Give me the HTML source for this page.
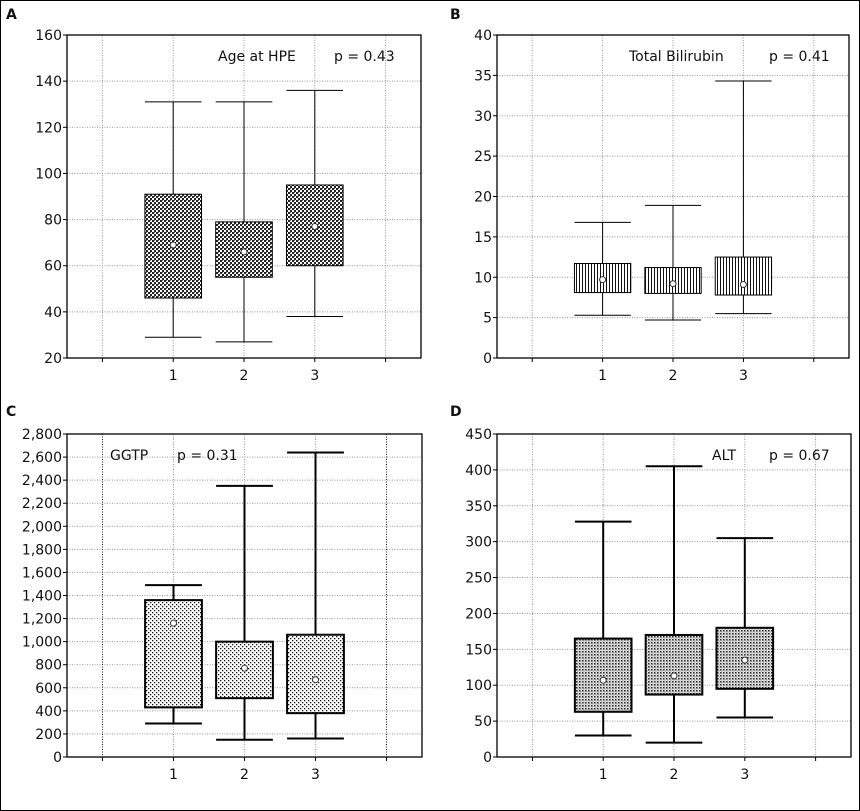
<!DOCTYPE html>
<html><head><meta charset="utf-8"><style>
html,body{margin:0;padding:0;background:#fff}
svg{display:block}
text{font-family:"DejaVu Sans","Liberation Sans",sans-serif;fill:#111}
</style></head><body>
<svg id="fig" width="860" height="811" viewBox="0 0 860 811" xmlns="http://www.w3.org/2000/svg">
<defs>
<pattern id="pA" width="4" height="4" patternUnits="userSpaceOnUse"><rect width="4" height="4" fill="#fff"/><rect width="2" height="2" fill="#222"/><rect x="2" y="2" width="2" height="2" fill="#222"/><rect x="2" y="0" width="1" height="1" fill="#666"/></pattern>
<pattern id="pB" width="3" height="3" patternUnits="userSpaceOnUse"><rect width="3" height="3" fill="#fff"/><rect width="1" height="3" fill="#111"/></pattern>
<pattern id="pC" width="4" height="4" patternUnits="userSpaceOnUse"><rect width="4" height="4" fill="#fff"/><rect width="1.3" height="1.3" fill="#111"/><rect x="2" y="2" width="1.3" height="1.3" fill="#111"/></pattern>
<pattern id="pD" width="3" height="3" patternUnits="userSpaceOnUse"><rect width="3" height="3" fill="#e8e8e8"/><rect width="1.5" height="1.5" fill="#222"/><rect x="1.5" y="1.5" width="1" height="1" fill="#777"/></pattern>
</defs>
<rect x="0.5" y="0.5" width="859" height="810" fill="none" stroke="#000"/>
</svg>
<script>
// Panel A: Age at HPE
const aWhiskLo=[29,27,38], aQ1=[46,55,60], aMean=[69,66,77], aQ3=[91,79,95], aWhiskHi=[131,131,136];
const aTicks=[20,40,60,80,100,120,140,160];
// Panel B: Total Bilirubin
const bWhiskLo=[5.3,4.7,5.5], bQ1=[8.1,8.0,7.8], bMean=[9.7,9.2,9.1], bQ3=[11.7,11.2,12.5], bWhiskHi=[16.8,18.9,34.3];
const bTicks=[0,5,10,15,20,25,30,35,40];
// Panel C: GGTP
const cWhiskLo=[290,150,160], cQ1=[430,510,380], cMean=[1160,770,670], cQ3=[1360,1000,1060], cWhiskHi=[1490,2350,2640];
const cTicks=[0,200,400,600,800,1000,1200,1400,1600,1800,2000,2200,2400,2600,2800];
const cTickLabels=["0","200","400","600","800","1,000","1,200","1,400","1,600","1,800","2,000","2,200","2,400","2,600","2,800"];
// Panel D: ALT
const dWhiskLo=[30,20,55], dQ1=[63,87,95], dMean=[107,113,135], dQ3=[165,170,180], dWhiskHi=[328,405,305];
const dTicks=[0,50,100,150,200,250,300,350,400,450];
const categories=["1","2","3"];

const NS="http://www.w3.org/2000/svg";
const svg=document.getElementById('fig');
function mk(tag,attrs,parent){const e=document.createElementNS(NS,tag);for(const k in attrs)e.setAttribute(k,attrs[k]);(parent||svg).appendChild(e);return e;}

function panel(cfg){
  const g=mk('g',{});
  
  
  const L=cfg.L,R=cfg.R,T=cfg.T,B=cfg.B;
  const ymin=cfg.ticks[0],ymax=cfg.ticks[cfg.ticks.length-1];
  const y=v=>B-(v-ymin)/(ymax-ymin)*(B-T);
  const x=i=>L+(i+0.5)/5*(R-L); // domain -0.5..4.5
  const sw=cfg.sw;
  // letter
  const lt=mk('text',{x:cfg.lx,y:cfg.ly,'font-size':14,'font-weight':'bold'},g);lt.textContent=cfg.letter;
  
  
  // horizontal grid
  cfg.ticks.forEach((t,i)=>{
    if(i>0&&i<cfg.ticks.length-1){const gl=mk('line',{x1:L,x2:R,y1:y(t),y2:y(t),stroke:'#999','stroke-dasharray':'1,1.5','stroke-width':1},g);
      
      }
    mk('line',{x1:L-4,x2:L,y1:y(t),y2:y(t),stroke:'#000'},g);
    const tx=mk('text',{x:L-5,y:y(t)+5,'font-size':14,'text-anchor':'end'},g);
    tx.textContent=cfg.labels?cfg.labels[i]:String(t);
    
    
  });
  // vertical grid
  [0,1,2,3,4].forEach(i=>{
    const strong=cfg.vstrong&&(i===0||i===4);
    const vl=mk('line',{x1:x(i),x2:x(i),y1:T,y2:B,stroke:strong?'#222':'#999','stroke-dasharray':'1,1.5'},g);
    
    
    mk('line',{x1:x(i),x2:x(i),y1:B,y2:B+4,stroke:'#000'},g);
  });
  categories.forEach((c,i)=>{
    const tx=mk('text',{x:x(i+1),y:B+22,'font-size':14,'text-anchor':'middle'},g);tx.textContent=c;
    
    
  });
  // boxes
  const bw=(R-L)/5*0.8, cw=(R-L)/5*0.8;
  categories.forEach((c,i)=>{
    const cx=x(i+1);
    const bg=mk('g',{},g);
    
    
    mk('line',{x1:cx,x2:cx,y1:y(cfg.hi[i]),y2:y(cfg.lo[i]),stroke:'#000','stroke-width':sw},bg);
    [cfg.hi[i],cfg.lo[i]].forEach(v=>mk('line',{x1:cx-cw/2,x2:cx+cw/2,y1:y(v),y2:y(v),stroke:'#000','stroke-width':sw},bg));
    const r=mk('rect',{x:cx-bw/2,y:y(cfg.q3[i]),width:bw,height:y(cfg.q1[i])-y(cfg.q3[i]),fill:'url(#'+cfg.pat+')',stroke:'#000','stroke-width':sw},bg);
    
    
    const m=mk('circle',{cx:cx,cy:y(cfg.mean[i]),r:3,fill:'#fff',stroke:'#333','stroke-width':1},bg);
    
    
  });
  mk('rect',{x:L,y:T,width:R-L,height:B-T,fill:'none',stroke:'#000','stroke-width':1.3},g);
  const t1=mk('text',{x:cfg.tx,y:T+26,'font-size':14},g);t1.textContent=cfg.title;
  
  
  const t2=mk('text',{x:cfg.px,y:T+26,'font-size':14},g);t2.textContent=cfg.p;
  
  
}
panel({name:'panel-a-age',letter:'A',lx:6,ly:19,L:67,R:421,T:35,B:358,ticks:aTicks,lo:aWhiskLo,q1:aQ1,mean:aMean,q3:aQ3,hi:aWhiskHi,pat:'pA',sw:1,title:'Age at HPE',tx:218,p:'p = 0.43',px:334});
panel({name:'panel-b-bilirubin',letter:'B',lx:450,ly:19,L:497,R:849,T:35,B:358,ticks:bTicks,lo:bWhiskLo,q1:bQ1,mean:bMean,q3:bQ3,hi:bWhiskHi,pat:'pB',sw:1,title:'Total Bilirubin',tx:629,p:'p = 0.41',px:769});
panel({name:'panel-c-ggtp',letter:'C',lx:6,ly:416,L:67,R:422,T:434,B:757,ticks:cTicks,labels:cTickLabels,lo:cWhiskLo,q1:cQ1,mean:cMean,q3:cQ3,hi:cWhiskHi,pat:'pC',sw:2,vstrong:true,title:'GGTP',tx:110,p:'p = 0.31',px:177});
panel({name:'panel-d-alt',letter:'D',lx:450,ly:416,L:497,R:851,T:434,B:757,ticks:dTicks,lo:dWhiskLo,q1:dQ1,mean:dMean,q3:dQ3,hi:dWhiskHi,pat:'pD',sw:2,title:'ALT',tx:712,p:'p = 0.67',px:769});
</script>
</body></html>
